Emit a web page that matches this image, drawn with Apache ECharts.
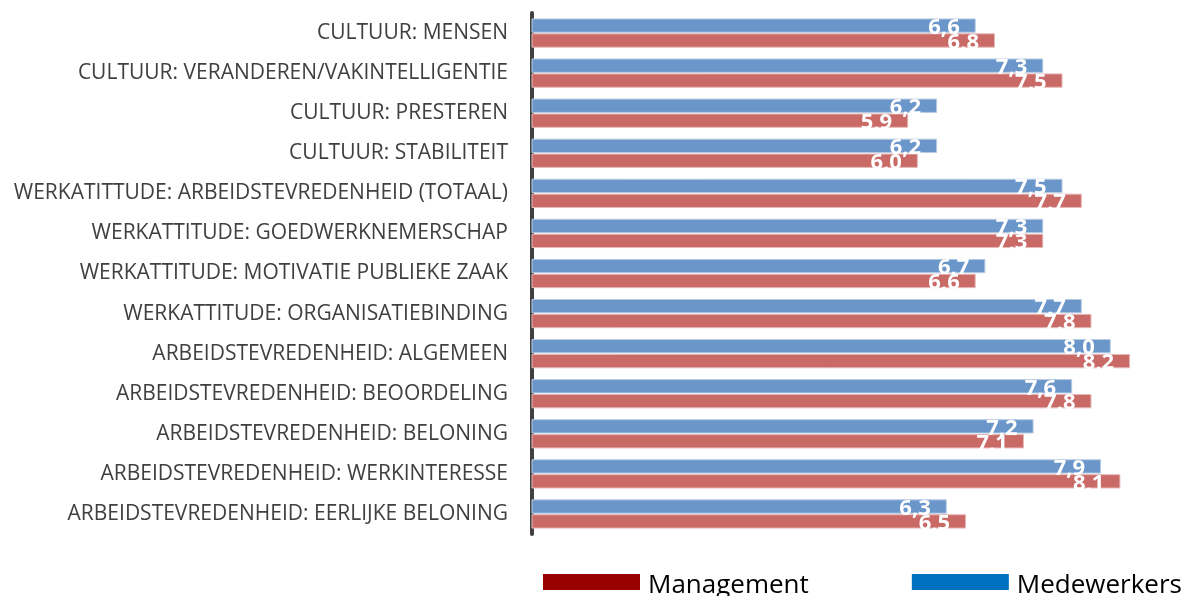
<!DOCTYPE html>
<html>
<head>
<meta charset="utf-8">
<script src="https://cdn.jsdelivr.net/npm/echarts@6/dist/echarts.min.js"></script>
<style>
  html, body { margin: 0; padding: 0; background: #fff; }
  #chart { width: 1192px; height: 596px; }
</style>
</head>
<body>
<div id="chart"></div>
<script>
const categories = [
  'CULTUUR: MENSEN',
  'CULTUUR: VERANDEREN/VAKINTELLIGENTIE',
  'CULTUUR: PRESTEREN',
  'CULTUUR: STABILITEIT',
  'WERKATITTUDE: ARBEIDSTEVREDENHEID (TOTAAL)',
  'WERKATTITUDE: GOEDWERKNEMERSCHAP',
  'WERKATTITUDE: MOTIVATIE PUBLIEKE ZAAK',
  'WERKATTITUDE: ORGANISATIEBINDING',
  'ARBEIDSTEVREDENHEID: ALGEMEEN',
  'ARBEIDSTEVREDENHEID: BEOORDELING',
  'ARBEIDSTEVREDENHEID: BELONING',
  'ARBEIDSTEVREDENHEID: WERKINTERESSE',
  'ARBEIDSTEVREDENHEID: EERLIJKE BELONING'
]
const medewerkers = [6.6, 7.3, 6.2, 6.2, 7.5, 7.3, 6.7, 7.7, 8.0, 7.6, 7.2, 7.9, 6.3]
const management = [6.8, 7.5, 5.9, 6.0, 7.7, 7.3, 6.6, 7.8, 8.2, 7.8, 7.1, 8.1, 6.5]

const font = '"Open Sans", "Noto Sans", sans-serif'

// white value labels sitting just inside the end of each bar
const valueLabel = {
  show: true,
  position: 'insideRight',
  offset: [-11, 2],
  color: '#fff',
  fontFamily: font,
  fontWeight: 'bold',
  fontSize: 22,
  formatter: p => p.value.toFixed(1).replace('.', ',')
}

const chart = echarts.init(document.getElementById('chart'))

chart.setOption({
  animation: false,
  grid: { left: 532, right: 33, top: 13, bottom: 62 },
  legend: {
    top: 568,
    left: 538,
    itemWidth: 97,
    itemHeight: 16,
    itemGap: 103,
    icon: 'rect',
    formatter: name => '{t|' + name + '}',
    textStyle: {
      fontFamily: font, fontSize: 26, color: '#000',
      rich: { t: { fontFamily: font, fontSize: 26, color: '#000', padding: [8, 0, 0, 3] } }
    },
    data: [
      { name: 'Management', itemStyle: { color: '#990000', borderWidth: 0 } },
      { name: 'Medewerkers', itemStyle: { color: '#0070C0', borderWidth: 0 } }
    ]
  },
  xAxis: {
    type: 'value',
    min: 2,
    max: 8.5,
    show: false
  },
  yAxis: {
    type: 'category',
    inverse: true,
    data: categories,
    axisLine: { lineStyle: { color: '#404040', width: 4 } },
    axisTick: { show: false },
    axisLabel: { fontFamily: font, fontSize: 21, color: '#404040', margin: 24 }
  },
  series: [
    {
      name: 'Medewerkers',
      type: 'bar',
      data: medewerkers,
      barCategoryGap: '27%',
      barGap: '4%',
      itemStyle: { color: '#6A96C9', borderColor: '#B9CDE5', borderWidth: 1 },
      label: valueLabel
    },
    {
      name: 'Management',
      type: 'bar',
      data: management,
      barCategoryGap: '27%',
      barGap: '4%',
      itemStyle: { color: '#C96A67', borderColor: '#E6B9B8', borderWidth: 1 },
      label: valueLabel
    }
  ]
})
</script>
</body>
</html>
